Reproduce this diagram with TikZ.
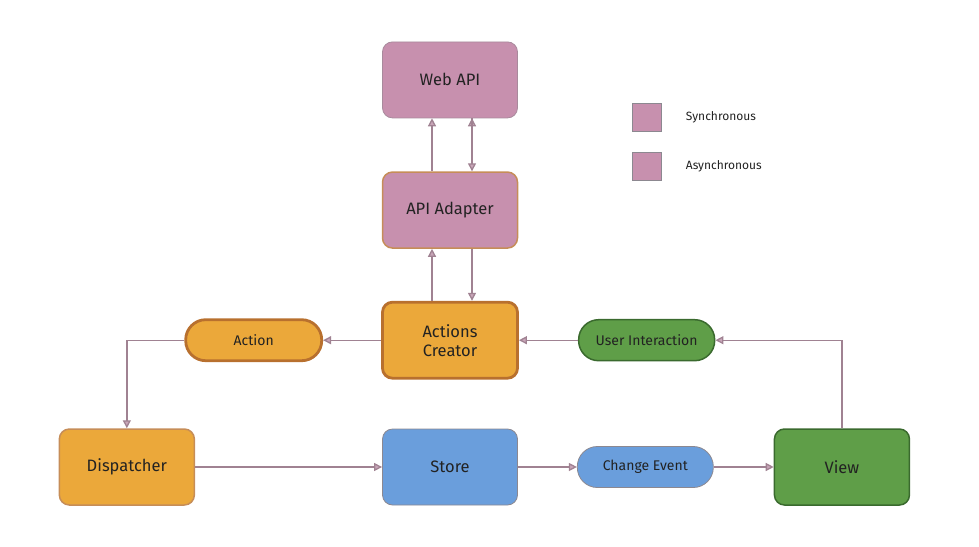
\documentclass[tikz,border=0pt]{standalone}
\usepackage{fontspec}
\setmainfont{Fira Sans}
\usepackage{tikz}
\usetikzlibrary{arrows.meta,positioning}

\definecolor{apipink}{HTML}{C790AE}
\definecolor{pinkline}{HTML}{A88A9C}
\definecolor{boxgrey}{HTML}{8C8890}
\definecolor{flowline}{HTML}{A08292}
\definecolor{tipfill}{HTML}{C9A6B9}
\definecolor{fluxorange}{HTML}{EBA83A}
\definecolor{fluxbrown}{HTML}{B8702E}
\definecolor{storeblue}{HTML}{6A9EDC}
\definecolor{viewgreen}{HTML}{5F9E48}
\definecolor{darkgreen}{HTML}{3A6A2E}
\definecolor{labeltext}{HTML}{222222}

\begin{document}
\begin{tikzpicture}[x=1pt,y=1pt,>={Triangle[length=8pt,width=8pt,fill=tipfill]},
                    line width=1.3pt]
  \tikzstyle{box}=[rectangle,rounded corners=10pt,minimum width=135pt,
                   minimum height=76pt,align=center,text=labeltext,
                   font=\fontsize{16.5}{19}\selectfont]
  \tikzstyle{pill}=[rectangle,rounded corners=20pt,minimum width=136pt,
                    minimum height=41pt,text=labeltext,
                    font=\fontsize{14}{16}\selectfont]
  \tikzstyle{key}=[rectangle,fill=apipink,draw=boxgrey,line width=0.8pt,
                   minimum width=29pt,minimum height=28pt]
  \tikzstyle{keytext}=[text=labeltext,font=\fontsize{12}{14}\selectfont]
  \tikzstyle{flow}=[draw=flowline,line width=1.3pt]

  \useasboundingbox (0,0) rectangle (979,-546);

  \node[box,fill=storeblue,draw=boxgrey,line width=0.8pt] (store) at (450,-467) {Store};
  \node[box,fill=fluxorange,draw=fluxbrown,line width=2.8pt]
       (creator) [above=49pt of store] {Actions\\Creator};
  \node[box,fill=apipink,draw=fluxbrown!80,line width=1.5pt]
       (adapter) [above=52pt of creator] {API Adapter};
  \node[box,fill=apipink,draw=pinkline,line width=0.8pt]
       (webapi) [above=53pt of adapter] {Web API};
  \node[box,fill=fluxorange,draw=fluxbrown!80,line width=1.5pt]
       (dispatcher) [left=187pt of store] {Dispatcher};
  \node[pill,fill=storeblue,draw=boxgrey,line width=0.8pt]
       (change) [right=59pt of store] {Change Event};
  \node[box,fill=viewgreen,draw=darkgreen,line width=1.5pt]
       (view) [right=60pt of change] {View};
  \node[pill,fill=fluxorange,draw=fluxbrown,line width=2.8pt]
       (action) [left=58pt of creator] {Action};
  \node[pill,fill=viewgreen,draw=darkgreen,line width=1.5pt]
       (interaction) [right=59pt of creator] {User Interaction};

  % legend
  \node[key] (synckey) at (647,-117) {};
  \node[key] (asynckey) at (647,-166) {};
  \node[keytext,anchor=west] (synctext) [right=20pt of synckey] {Synchronous};
  \node[keytext,anchor=west] (asynctext) [right=20pt of asynckey] {Asynchronous};

  \path[flow,->] ([xshift=-18pt]creator.north) edge ([xshift=-18pt]adapter.south)
                 ([xshift=22pt]adapter.south) edge ([xshift=22pt]creator.north)
                 ([xshift=-18pt]adapter.north) edge ([xshift=-18pt]webapi.south)
                 ([xshift=22pt]webapi.south) edge ([xshift=22pt]adapter.north)
                 (creator) edge (action)
                 (dispatcher) edge (store)
                 (store) edge (change)
                 (change) edge (view)
                 (interaction) edge (creator);
  \draw[flow,->] (action.west) -| (dispatcher.north);
  \draw[flow,->] (view.north) |- (interaction.east);
\end{tikzpicture}
\end{document}
